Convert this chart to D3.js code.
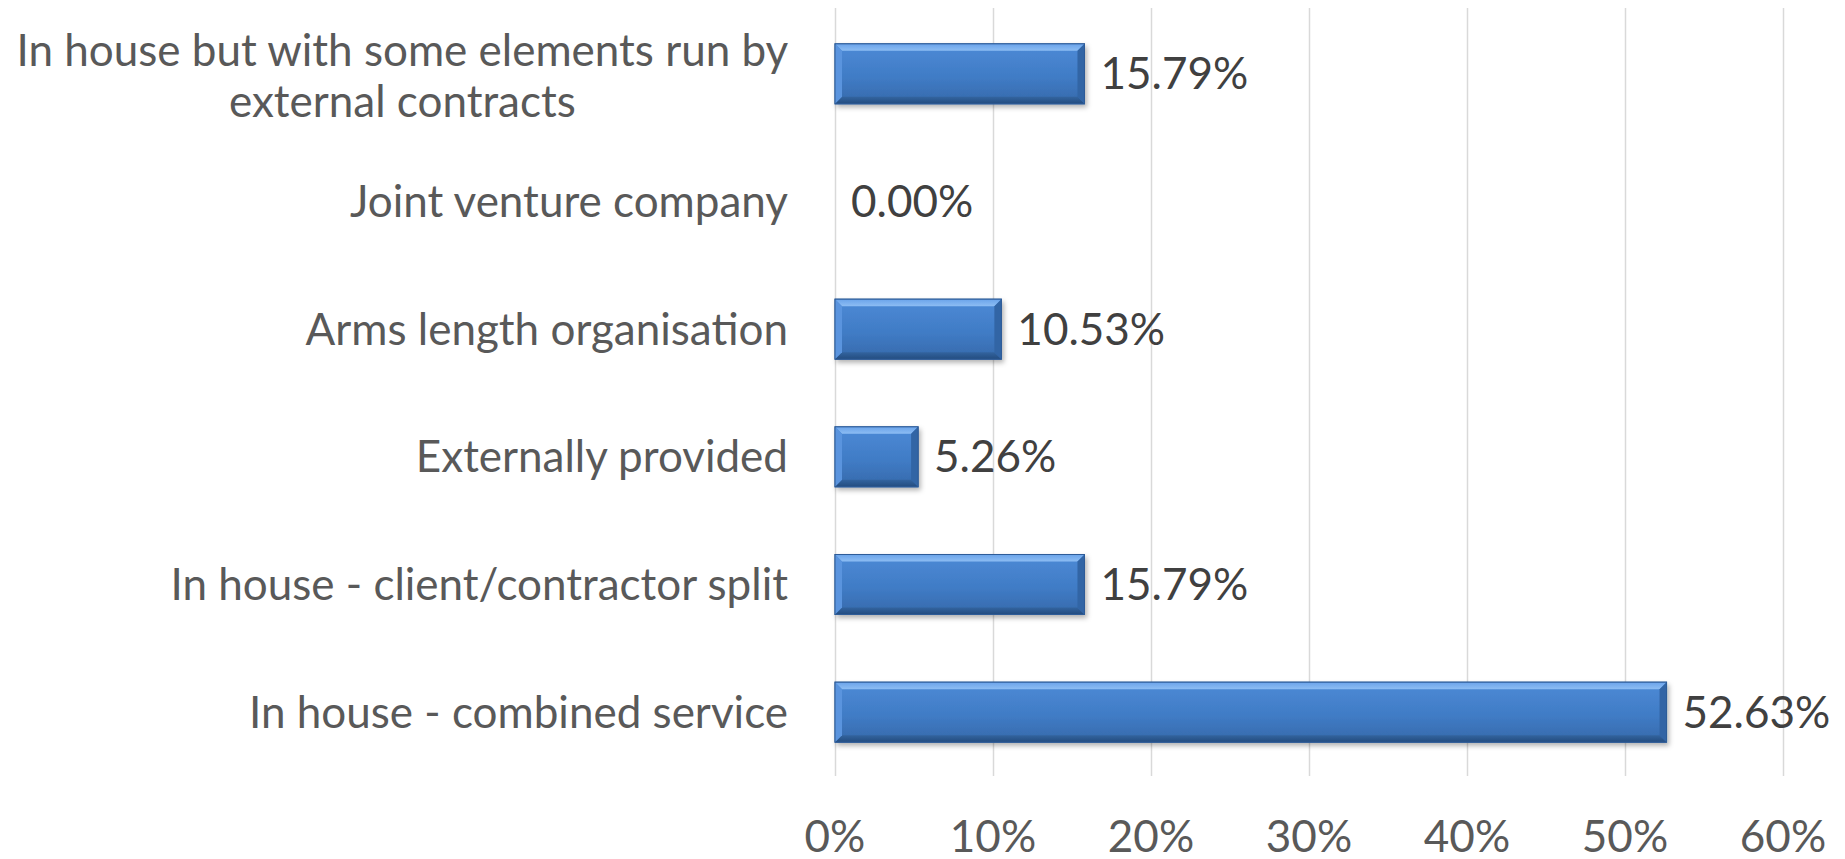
<!DOCTYPE html>
<html>
<head>
<meta charset="utf-8">
<script src="https://cdn.jsdelivr.net/npm/d3@7"></script>
<style>
  body { margin: 0; background: #fff; }
  text { font-family: Lato, "Open Sans", sans-serif; }
</style>
</head>
<body>
<div id="chart"></div>
<script>
// categories from top to bottom, as in the picture
let categories = [
    "In house but with some elements run by external contracts",
    "Joint venture company",
    "Arms length organisation",
    "Externally provided",
    "In house - client/contractor split",
    "In house - combined service"
];
let shares = [0.1579, 0.0, 0.1053, 0.0526, 0.1579, 0.5263];
let tickValues = [0, 0.1, 0.2, 0.3, 0.4, 0.5, 0.6];
// wrapped label lines for the long first category
let labelLines = {
    "In house but with some elements run by external contracts":
        ["In house but with some elements run by", "external contracts"]
};

let width = 1845, height = 859,
    plotLeft = 835, plotRight = 1783, plotTop = 10, plotBottom = 776,
    fontSize = "44px";

let svg = d3.select("#chart").append("svg")
    .attr("width", width)
    .attr("height", height);

let defs = svg.append("defs");

let body = defs.append("linearGradient")
    .attr("id", "barBody").attr("x1", 0).attr("y1", 0).attr("x2", 0).attr("y2", 1);
body.append("stop").attr("offset", "0%").attr("stop-color", "#4d8ad6");
body.append("stop").attr("offset", "55%").attr("stop-color", "#407cc6");
body.append("stop").attr("offset", "100%").attr("stop-color", "#3669ab");

let topEdge = defs.append("linearGradient")
    .attr("id", "barTop").attr("x1", 0).attr("y1", 0).attr("x2", 0).attr("y2", 1);
topEdge.append("stop").attr("offset", "0%").attr("stop-color", "#6aa3ea");
topEdge.append("stop").attr("offset", "100%").attr("stop-color", "#8dbdf3");

let bottomEdge = defs.append("linearGradient")
    .attr("id", "barBottom").attr("x1", 0).attr("y1", 0).attr("x2", 0).attr("y2", 1);
bottomEdge.append("stop").attr("offset", "0%").attr("stop-color", "#33649f");
bottomEdge.append("stop").attr("offset", "100%").attr("stop-color", "#234c7f");

let shadow = defs.append("filter").attr("id", "shadow")
    .attr("x", "-5%").attr("y", "-20%").attr("width", "115%").attr("height", "160%");
shadow.append("feDropShadow")
    .attr("dx", 2).attr("dy", 3).attr("stdDeviation", 2.5)
    .attr("flood-color", "#000").attr("flood-opacity", 0.3);

let x = d3.scaleLinear()
    .domain([0, 0.6])
    .range([plotLeft, plotRight]);

let y = d3.scaleBand()
    .domain(categories)
    .range([plotTop, plotBottom])
    .paddingInner(0.53)
    .paddingOuter(0.265);

// vertical gridlines
svg.append("g")
    .attr("class", "grid")
    .attr("transform", "translate(0," + plotBottom + ")")
    .call(d3.axisBottom(x)
        .tickValues(tickValues)
        .tickSize(-(plotBottom - plotTop + 2))
        .tickFormat(function () { return null; }))
    .call(g => g.select(".domain").remove())
    .selectAll("line")
    .attr("stroke", "#d9d9d9")
    .attr("stroke-width", 1.5);

// x tick labels
svg.append("g")
    .selectAll("text")
    .data(tickValues)
    .enter().append("text")
    .attr("x", d => x(d))
    .attr("y", 837)
    .attr("dy", "0.35em")
    .attr("text-anchor", "middle")
    .attr("fill", "#595959")
    .style("font-size", fontSize)
    .text(d3.format(".0%"));

// bars with a bevel look
let bars = svg.append("g")
    .selectAll("g")
    .data(categories.map((c, i) => ({cat: c, value: shares[i]})))
    .enter().append("g")
    .filter(d => d.value > 0);

bars.append("rect")
    .attr("x", x(0))
    .attr("y", d => y(d.cat))
    .attr("width", d => x(d.value) - x(0))
    .attr("height", y.bandwidth())
    .attr("fill", "url(#barBody)")
    .attr("stroke", "#2e5c98")
    .attr("stroke-width", 1)
    .attr("filter", "url(#shadow)");

function bevel(d, side) {
    let x0 = x(0), x1 = x(d.value), y0 = y(d.cat), y1 = y0 + y.bandwidth();
    let b = Math.min(7, (x1 - x0) / 2);
    if (side === "top") return [[x0, y0], [x1, y0], [x1 - b, y0 + b], [x0 + b, y0 + b]];
    if (side === "bottom") return [[x0, y1], [x1, y1], [x1 - b, y1 - b], [x0 + b, y1 - b]];
    if (side === "left") return [[x0, y0], [x0 + b, y0 + b], [x0 + b, y1 - b], [x0, y1]];
    return [[x1, y0], [x1 - b, y0 + b], [x1 - b, y1 - b], [x1, y1]];
}
let bevelFill = {top: "url(#barTop)", bottom: "url(#barBottom)", left: "#5a94de", right: "#3265a5"};
["top", "bottom", "left", "right"].forEach(function (side) {
    bars.append("polygon")
        .attr("points", d => bevel(d, side).join(" "))
        .attr("fill", bevelFill[side]);
});
bars.append("rect")
    .attr("x", x(0))
    .attr("y", d => y(d.cat))
    .attr("width", d => x(d.value) - x(0))
    .attr("height", y.bandwidth())
    .attr("fill", "none")
    .attr("stroke", "#2e5c98")
    .attr("stroke-width", 1);

// value labels
svg.append("g")
    .selectAll("text")
    .data(categories.map((c, i) => ({cat: c, value: shares[i]})))
    .enter().append("text")
    .attr("x", d => x(d.value) + 16)
    .attr("y", d => y(d.cat) + y.bandwidth() / 2)
    .attr("dy", "0.35em")
    .attr("fill", "#404040")
    .style("font-size", fontSize)
    .text(d => d3.format(".2%")(d.value));

// category labels
let labelRight = 788;
svg.append("g")
    .selectAll("text")
    .data(categories)
    .enter().append("text")
    .attr("fill", "#595959")
    .style("font-size", fontSize)
    .attr("text-anchor", "end")
    .attr("x", labelRight)
    .attr("y", d => y(d) + y.bandwidth() / 2)
    .attr("dy", "0.35em")
    .each(function (d) {
        let lines = labelLines[d];
        let t = d3.select(this);
        if (!lines) { t.text(d); return; }
        // centred multi-line label whose widest line ends at labelRight
        t.attr("dy", null).attr("text-anchor", "middle");
        let spans = lines.map(l => t.append("tspan").text(l));
        let widest = d3.max(spans, s => s.node().getComputedTextLength());
        let cx = labelRight - widest / 2;
        let gap = 51;
        spans.forEach(function (s, i) {
            s.attr("x", cx)
                .attr("y", y(d) + y.bandwidth() / 2 + 2 + (i - (lines.length - 1) / 2) * gap)
                .attr("dy", "0.35em");
        });
    });
</script>
</body>
</html>
